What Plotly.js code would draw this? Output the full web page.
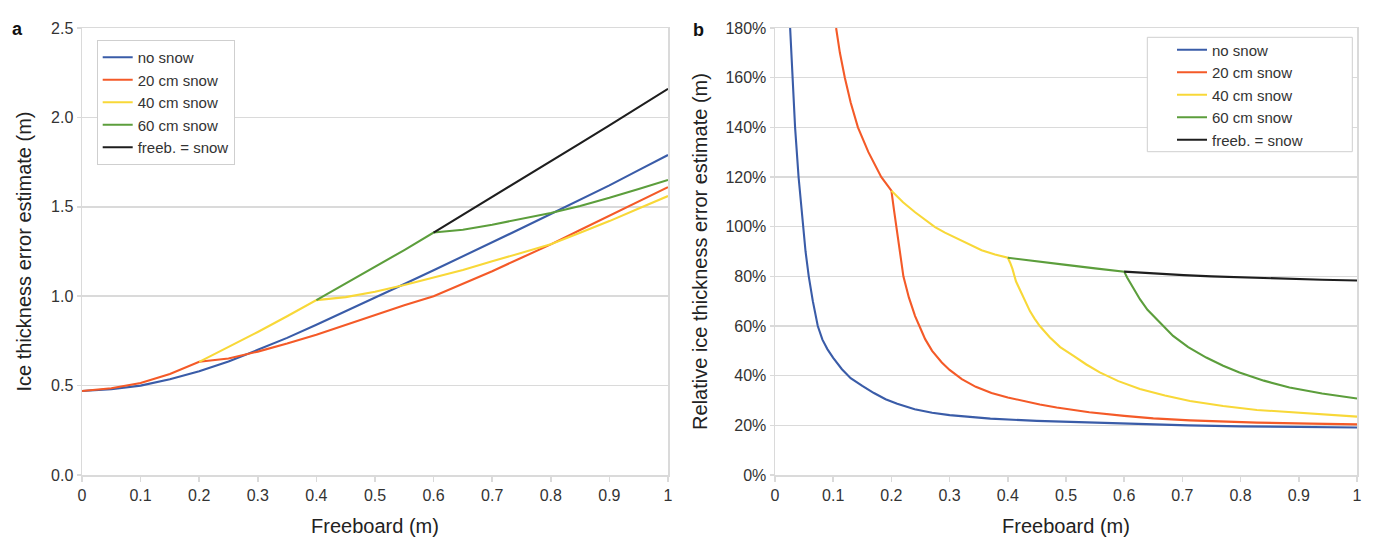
<!DOCTYPE html>
<html>
<head>
<meta charset="utf-8">
<script src="https://cdn.plot.ly/plotly-3.0.1.min.js"></script>
<style>html,body{margin:0;padding:0;background:#fff;}#chart{width:1400px;height:551px;}</style>
</head>
<body>
<div id="chart"></div>
<script>
// ---------- Panel a: ice thickness error estimate (m) ----------
var freeboardA = [0,0.05,0.1,0.15,0.2,0.25,0.3,0.35,0.4,0.45,0.5,0.55,0.6,0.65,0.7,0.75,0.8,0.85,0.9,0.95,1.0];
var noSnowA   = [0.47,0.48,0.50,0.535,0.58,0.635,0.70,0.767,0.84,0.915,0.99,1.068,1.145,1.222,1.30,1.38,1.46,1.54,1.62,1.705,1.79];
var snow20A   = [0.47,0.485,0.515,0.565,0.633,0.652,0.69,0.735,0.785,0.84,0.895,0.95,1.0,1.07,1.14,1.215,1.29,1.37,1.45,1.53,1.61];
var snow40A   = [null,null,null,null,0.633,0.715,0.80,0.888,0.978,0.995,1.025,1.063,1.105,1.147,1.195,1.243,1.29,1.355,1.42,1.49,1.56];
var snow60A   = [null,null,null,null,null,null,null,null,0.978,1.07,1.163,1.258,1.356,1.372,1.40,1.432,1.465,1.505,1.55,1.60,1.65];
var freebEqA  = [null,null,null,null,null,null,null,null,null,null,null,null,1.356,1.455,1.555,1.655,1.755,1.855,1.955,2.057,2.16];

// ---------- Panel b: relative ice thickness error (%) ----------
var noSnowBx = [0.026,0.030,0.0345,0.0405,0.048,0.0525,0.058,0.065,0.0735,0.0815,0.09,0.1,0.115,0.13,0.15,0.17,0.19,0.21,0.24,0.27,0.30,0.33,0.37,0.45,0.54,0.62,0.71,0.80,0.90,1.0];
var noSnowBy = [180,160,140,120,100,90,80,70,60,54.5,50.7,47.2,42.6,39,35.9,33,30.5,28.7,26.5,25.1,24.1,23.4,22.7,21.8,21.1,20.5,20.0,19.6,19.3,19.1];
var snow20Bx = [0.105,0.1115,0.12,0.13,0.1425,0.1605,0.1825,0.192,0.2,0.2046,0.209,0.2125,0.2165,0.2206,0.23,0.2407,0.25,0.258,0.27,0.2866,0.30,0.321,0.345,0.372,0.40,0.427,0.455,0.484,0.54,0.60,0.65,0.713,0.828,0.92,1.0];
var snow20By = [180,170,160,150,140,130,120,117,114.5,106.5,99,93,86.5,80,71.5,64,59,54.7,50,45.3,42.3,38.6,35.5,33,31.2,29.8,28.4,27.2,25.3,23.8,22.8,22.0,21.1,20.7,20.4];
var snow40Bx = [0.2,0.22,0.2407,0.258,0.275,0.292,0.309,0.33,0.355,0.378,0.4,0.404,0.408,0.414,0.42,0.425,0.431,0.438,0.446,0.455,0.472,0.49,0.513,0.535,0.558,0.59,0.627,0.67,0.713,0.77,0.828,0.92,1.0];
var snow40By = [114.5,109.8,105.8,102.6,99.8,97.6,95.7,93.2,90.5,88.8,87.5,85.5,83,78,75,72,69,66,63,60,55.5,51.5,48,44.5,41.3,37.8,34.6,32,29.8,27.8,26.2,24.8,23.5];
var snow60Bx = [0.4,0.45,0.5,0.55,0.6,0.605,0.61,0.618,0.627,0.64,0.655,0.67,0.684,0.71,0.741,0.77,0.798,0.84,0.884,0.94,1.0];
var snow60By = [87.5,86.2,84.6,83.2,81.9,79.5,77.6,74,70.8,66.5,62.8,59.2,56,51.5,47.3,44,41.3,38,35.2,32.8,30.8];
var freebEqBx = [0.6,0.65,0.702,0.75,0.80,0.884,0.94,1.0];
var freebEqBy = [81.9,81.1,80.5,80.0,79.6,79.0,78.6,78.3];

var seriesNames = ['no snow','20 cm snow','40 cm snow','60 cm snow','freeb. = snow'];
var seriesColors = ['#3a5ca8','#f45a28','#f8d838','#5c9e3c','#1e1e1e'];
var xTitle = 'Freeboard (m)';
var yTitleA = 'Ice thickness error estimate (m)';
var yTitleB = 'Relative ice thickness error estimate (m)';

var yA = [noSnowA, snow20A, snow40A, snow60A, freebEqA];
var xB = [noSnowBx, snow20Bx, snow40Bx, snow60Bx, freebEqBx];
var yB = [noSnowBy, snow20By, snow40By, snow60By, freebEqBy];

var traces = [];
for (var i = 0; i < 5; i++) {
  traces.push({x: freeboardA, y: yA[i], type: 'scatter', mode: 'lines', name: seriesNames[i],
    line: {color: seriesColors[i], width: 2.1}, xaxis: 'x', yaxis: 'y', legend: 'legend', connectgaps: false});
}
for (var j = 0; j < 5; j++) {
  traces.push({x: xB[j], y: yB[j], type: 'scatter', mode: 'lines', name: seriesNames[j],
    line: {color: seriesColors[j], width: 2.1}, xaxis: 'x2', yaxis: 'y2', legend: 'legend2'});
}

var W = 1400, H = 551, ML = 82, MR = 43, MT = 28, MB = 76;
var PW = W - ML - MR, PH = H - MT - MB;
function px(x) { return (x - ML) / PW; }
function py(y) { return (H - MB - y) / PH; }

var grid = '#dadada';
var tickFont = {family: 'Liberation Sans, Arial, sans-serif', size: 16, color: '#333'};
var titleFont = {family: 'Liberation Sans, Arial, sans-serif', size: 20, color: '#222'};
function xax(domain, anchor) {
  return {domain: domain, anchor: anchor, range: [0, 1], dtick: 0.1, tick0: 0,
    showgrid: false, zeroline: false, showline: true, mirror: true, linecolor: grid, linewidth: 1.5,
    ticks: 'outside', ticklen: 5, tickcolor: grid, tickwidth: 1.5, tickfont: tickFont,
    title: {text: xTitle, font: titleFont, standoff: 16}};
}
var layout = {
  width: W, height: H, margin: {l: ML, r: MR, t: MT, b: MB},
  paper_bgcolor: '#fff', plot_bgcolor: '#fff',
  font: {family: 'Liberation Sans, Arial, sans-serif', color: '#333'},
  xaxis: xax([0, px(668)], 'y'),
  xaxis2: xax([px(775), 1], 'y2'),
  yaxis: {domain: [0, 1], anchor: 'x', range: [0, 2.5], dtick: 0.5, tickformat: '.1f',
    showgrid: true, gridcolor: grid, gridwidth: 1.5, zeroline: false, showline: true, mirror: true,
    linecolor: grid, linewidth: 1.5, ticks: 'outside', ticklen: 4, tickcolor: grid, tickwidth: 1.5,
    tickfont: tickFont, title: {text: yTitleA, font: titleFont, standoff: 14}},
  yaxis2: {domain: [0, 1], anchor: 'x2', range: [0, 180], dtick: 20, ticksuffix: '%',
    showgrid: true, gridcolor: grid, gridwidth: 1.5, zeroline: false, showline: true, mirror: true,
    linecolor: grid, linewidth: 1.5, ticks: 'outside', ticklen: 4, tickcolor: grid, tickwidth: 1.5,
    tickfont: tickFont, title: {text: yTitleB, font: titleFont, standoff: 12}},
  legend: {x: px(96.7), y: py(40), xanchor: 'left', yanchor: 'top', bgcolor: '#fff',
    bordercolor: '#cfcfcf', borderwidth: 1, font: {size: 15, color: '#333'}, itemwidth: 30, tracegroupgap: 0},
  legend2: {x: px(1172), y: py(33.5), xanchor: 'left', yanchor: 'top', bgcolor: 'rgba(0,0,0,0)',
    borderwidth: 0, font: {size: 15, color: '#333'}, itemwidth: 30, tracegroupgap: 0},
  shapes: [{type: 'rect', xref: 'paper', yref: 'paper', x0: px(1147.3), x1: px(1352.3), y0: py(151.7), y1: py(37.3),
    line: {color: '#cfcfcf', width: 1}, fillcolor: '#fff', layer: 'above'}],
  annotations: [
    {text: '<b>a</b>', xref: 'paper', yref: 'paper', x: px(17.5), y: py(29), xanchor: 'center', yanchor: 'middle',
      showarrow: false, font: {size: 18, color: '#111'}},
    {text: '<b>b</b>', xref: 'paper', yref: 'paper', x: px(698), y: py(30), xanchor: 'center', yanchor: 'middle',
      showarrow: false, font: {size: 18, color: '#111'}}
  ],
  showlegend: true
};
Plotly.newPlot('chart', traces, layout, {displayModeBar: false, staticPlot: true});
</script>
</body>
</html>
